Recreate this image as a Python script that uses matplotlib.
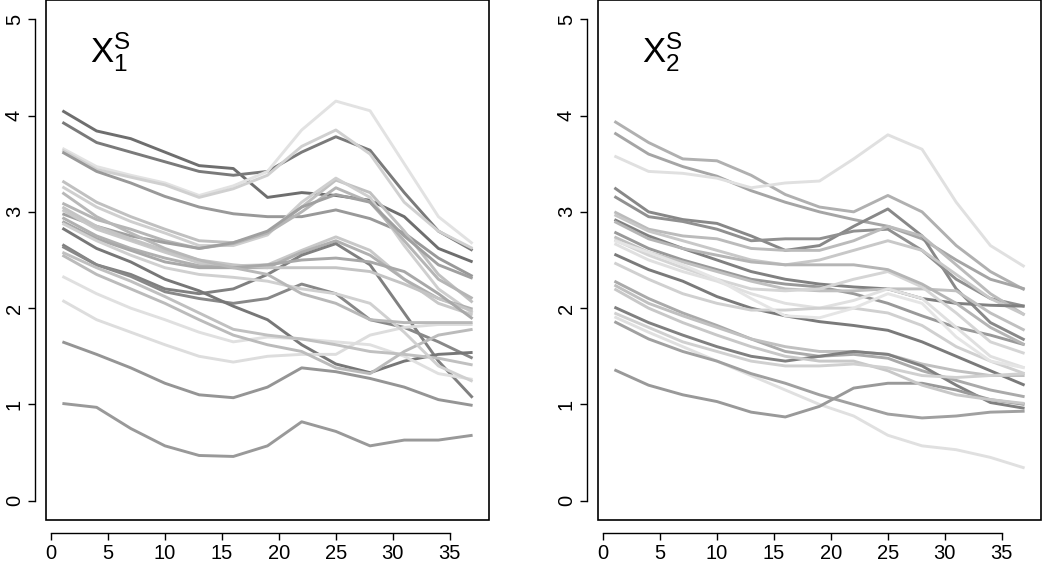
import matplotlib
matplotlib.use("Agg")
import matplotlib.pyplot as plt
from matplotlib.patches import Rectangle

# sampled time points (every 3rd day)
days = [1, 4, 7, 10, 13, 16, 19, 22, 25, 28, 31, 34, 37]

# panel 1 : X_1^S
left_curves = [
    [4.05, 3.84, 3.76, 3.62, 3.48, 3.45, 3.15, 3.20, 3.17, 3.12, 2.95, 2.62, 2.48],
    [3.93, 3.72, 3.62, 3.52, 3.42, 3.38, 3.42, 3.62, 3.78, 3.64, 3.20, 2.80, 2.60],
    [3.66, 3.47, 3.38, 3.30, 3.17, 3.27, 3.42, 3.85, 4.15, 4.05, 3.50, 2.95, 2.67],
    [3.64, 3.44, 3.36, 3.28, 3.15, 3.24, 3.38, 3.68, 3.85, 3.60, 3.10, 2.80, 2.62],
    [3.62, 3.42, 3.30, 3.16, 3.05, 2.98, 2.95, 2.95, 3.02, 2.93, 2.78, 2.52, 2.33],
    [3.32, 3.10, 2.95, 2.82, 2.70, 2.68, 2.78, 3.05, 3.33, 3.20, 2.80, 2.35, 2.06],
    [3.26, 3.05, 2.90, 2.78, 2.65, 2.65, 2.76, 3.10, 3.35, 3.15, 2.65, 2.20, 1.95],
    [3.09, 2.92, 2.82, 2.70, 2.62, 2.67, 2.78, 3.00, 3.25, 3.10, 2.70, 2.30, 2.10],
    [2.98, 2.85, 2.75, 2.68, 2.62, 2.68, 2.80, 3.05, 3.18, 3.10, 2.75, 2.45, 2.31],
    [3.02, 2.82, 2.70, 2.58, 2.47, 2.44, 2.45, 2.60, 2.74, 2.60, 2.30, 2.05, 1.93],
    [2.94, 2.75, 2.62, 2.52, 2.44, 2.42, 2.42, 2.58, 2.70, 2.55, 2.30, 2.10, 1.99],
    [2.66, 2.45, 2.35, 2.20, 2.15, 2.20, 2.35, 2.55, 2.67, 2.45, 1.95, 1.45, 1.07],
    [2.64, 2.45, 2.33, 2.17, 2.10, 2.05, 2.10, 2.25, 2.15, 1.88, 1.80, 1.65, 1.48],
    [2.83, 2.62, 2.48, 2.30, 2.18, 2.02, 1.88, 1.62, 1.42, 1.33, 1.45, 1.52, 1.54],
    [2.33, 2.15, 2.00, 1.88, 1.75, 1.65, 1.70, 1.68, 1.65, 1.62, 1.50, 1.32, 1.26],
    [2.08, 1.88, 1.75, 1.62, 1.50, 1.44, 1.50, 1.52, 1.52, 1.72, 1.80, 1.83, 1.83],
    [2.55, 2.35, 2.20, 2.05, 1.88, 1.72, 1.62, 1.55, 1.38, 1.32, 1.55, 1.72, 1.78],
    [2.58, 2.42, 2.28, 2.12, 1.95, 1.78, 1.72, 1.68, 1.62, 1.55, 1.52, 1.48, 1.41],
    [3.05, 2.85, 2.72, 2.60, 2.50, 2.45, 2.42, 2.42, 2.42, 2.38, 2.25, 2.10, 1.97],
    [2.90, 2.72, 2.60, 2.48, 2.42, 2.42, 2.45, 2.50, 2.52, 2.48, 2.38, 2.15, 1.89],
    [2.88, 2.70, 2.55, 2.42, 2.35, 2.32, 2.28, 2.20, 2.15, 2.05, 1.75, 1.40, 1.24],
    [3.20, 2.95, 2.78, 2.62, 2.50, 2.42, 2.35, 2.15, 2.05, 1.88, 1.85, 1.85, 1.85],
    [1.65, 1.52, 1.38, 1.22, 1.10, 1.07, 1.18, 1.38, 1.34, 1.27, 1.18, 1.05, 0.99],
    [1.01, 0.97, 0.75, 0.57, 0.47, 0.46, 0.57, 0.82, 0.72, 0.57, 0.63, 0.63, 0.68],
]
left_greys = ["#6e6e6e", "#7a7a7a", "#e2e2e2", "#d0d0d0", "#999999", "#c0c0c0",
              "#cfcfcf", "#b5b5b5", "#a0a0a0", "#c8c8c8", "#b0b0b0", "#808080",
              "#888888", "#777777", "#e0e0e0", "#dddddd", "#bbbbbb", "#c0c0c0",
              "#c4c4c4", "#a8a8a8", "#d0d0d0", "#b8b8b8", "#959595", "#999999"]

# panel 2 : X_2^S
right_curves = [
    [3.94, 3.72, 3.55, 3.53, 3.38, 3.18, 3.05, 3.00, 3.17, 3.00, 2.65, 2.38, 2.19],
    [3.82, 3.60, 3.47, 3.37, 3.22, 3.10, 3.00, 2.92, 2.85, 2.72, 2.50, 2.30, 2.20],
    [3.58, 3.42, 3.40, 3.35, 3.25, 3.30, 3.32, 3.55, 3.80, 3.65, 3.10, 2.65, 2.43],
    [3.25, 3.00, 2.92, 2.88, 2.75, 2.60, 2.65, 2.85, 3.03, 2.75, 2.20, 1.85, 1.67],
    [3.16, 2.95, 2.90, 2.82, 2.70, 2.72, 2.72, 2.80, 2.82, 2.60, 2.30, 2.10, 2.02],
    [3.00, 2.82, 2.75, 2.72, 2.62, 2.60, 2.60, 2.70, 2.85, 2.75, 2.45, 2.15, 1.93],
    [2.97, 2.80, 2.70, 2.60, 2.50, 2.45, 2.50, 2.60, 2.70, 2.60, 2.35, 2.10, 1.93],
    [2.92, 2.75, 2.62, 2.50, 2.38, 2.30, 2.25, 2.22, 2.20, 2.10, 2.05, 2.03, 2.02],
    [2.79, 2.62, 2.50, 2.40, 2.30, 2.25, 2.22, 2.15, 2.05, 1.92, 1.80, 1.72, 1.62],
    [2.74, 2.58, 2.48, 2.38, 2.28, 2.20, 2.18, 2.18, 2.20, 2.20, 2.18, 1.95, 1.77],
    [2.71, 2.55, 2.42, 2.30, 2.20, 2.18, 2.20, 2.30, 2.38, 2.22, 1.95, 1.65, 1.53],
    [2.67, 2.50, 2.38, 2.28, 2.15, 2.05, 2.00, 2.08, 2.20, 2.10, 1.80, 1.50, 1.38],
    [2.56, 2.40, 2.28, 2.12, 2.00, 1.92, 1.86, 1.82, 1.77, 1.65, 1.50, 1.35, 1.20],
    [2.47, 2.30, 2.15, 2.05, 1.98, 1.98, 2.00, 2.00, 1.95, 1.82, 1.60, 1.45, 1.32],
    [2.28, 2.10, 1.95, 1.82, 1.68, 1.55, 1.50, 1.52, 1.48, 1.35, 1.25, 1.15, 1.08],
    [2.24, 2.05, 1.92, 1.80, 1.68, 1.60, 1.55, 1.55, 1.52, 1.42, 1.35, 1.30, 1.30],
    [2.01, 1.85, 1.72, 1.60, 1.50, 1.45, 1.50, 1.55, 1.52, 1.40, 1.20, 1.02, 0.96],
    [1.91, 1.75, 1.60, 1.45, 1.30, 1.15, 1.00, 0.88, 0.68, 0.57, 0.53, 0.45, 0.34],
    [1.86, 1.68, 1.55, 1.45, 1.32, 1.22, 1.10, 1.00, 0.90, 0.86, 0.88, 0.92, 0.93],
    [1.36, 1.20, 1.10, 1.03, 0.92, 0.87, 0.98, 1.17, 1.22, 1.22, 1.15, 1.05, 1.00],
    [2.20, 2.00, 1.85, 1.72, 1.60, 1.50, 1.45, 1.45, 1.35, 1.20, 1.10, 1.05, 1.01],
    [2.90, 2.72, 2.62, 2.55, 2.48, 2.45, 2.45, 2.45, 2.40, 2.25, 2.05, 1.80, 1.62],
    [2.70, 2.58, 2.45, 2.30, 2.10, 1.92, 1.90, 2.00, 2.15, 2.05, 1.70, 1.45, 1.38],
    [1.95, 1.80, 1.65, 1.55, 1.45, 1.40, 1.40, 1.42, 1.38, 1.30, 1.28, 1.30, 1.32],
]
right_greys = ["#b0b0b0", "#a5a5a5", "#e0e0e0", "#888888", "#909090", "#bbbbbb",
               "#c8c8c8", "#808080", "#999999", "#c0c0c0", "#d5d5d5", "#e0e0e0",
               "#7a7a7a", "#d0d0d0", "#aaaaaa", "#c0c0c0", "#808080", "#e0e0e0",
               "#a0a0a0", "#999999", "#c8c8c8", "#b5b5b5", "#e5e5e5", "#d0d0d0"]

panel_labels = [r"$\mathregular{X_1^S}$", r"$\mathregular{X_2^S}$"]

plt.rcParams["font.family"] = ["Liberation Sans", "DejaVu Sans"]
plt.rcParams["mathtext.fontset"] = "custom"
plt.rcParams["mathtext.rm"] = "Liberation Sans"

fig = plt.figure(figsize=(10.5, 5.68), dpi=100)
ax1 = fig.add_axes([46 / 1050, 48 / 568, 443 / 1050, 520 / 568])
ax2 = fig.add_axes([598 / 1050, 48 / 568, 443 / 1050, 520 / 568])

for ax, curves, greys, lab in [(ax1, left_curves, left_greys, panel_labels[0]),
                               (ax2, right_curves, right_greys, panel_labels[1])]:
    for vals, g in zip(curves, greys):
        ax.plot(days, vals, color=g, lw=2.1, solid_capstyle="butt",
                solid_joinstyle="round")
    ax.set_xlim(-0.44, 38.44)
    ax.set_ylim(-0.2, 5.2)
    ax.set_xticks(range(0, 36, 5))
    ax.set_yticks(range(0, 6))
    # R style: detached axes + full box
    ax.spines["top"].set_visible(False)
    ax.spines["right"].set_visible(False)
    ax.spines["bottom"].set_position(("outward", 9))
    ax.spines["left"].set_position(("outward", 8))
    ax.spines["bottom"].set_bounds(0, 35)
    ax.spines["left"].set_bounds(0, 5)
    for s in ["bottom", "left"]:
        ax.spines[s].set_linewidth(1.0)
    ax.add_patch(Rectangle((0, 0), 1, 1, transform=ax.transAxes, fill=False,
                           lw=1.2, ec="black", clip_on=False))
    ax.tick_params(direction="out", length=5, width=1.0, labelsize=14.5, pad=3)
    for t in ax.get_yticklabels():
        t.set_rotation(90)
        t.set_va("center")
    ax.text(3.4, 4.55, lab, fontsize=25, ha="left", va="baseline")

fig.savefig("out.png", dpi=100)
